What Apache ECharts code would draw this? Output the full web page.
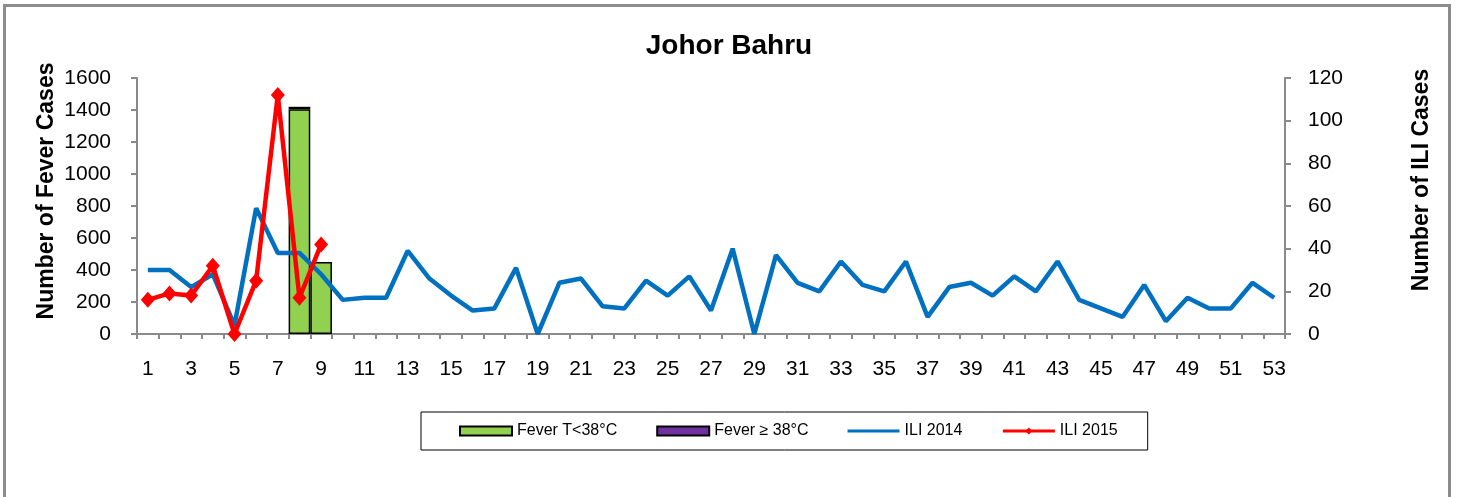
<!DOCTYPE html>
<html>
<head>
<meta charset="utf-8">
<script src="https://cdn.jsdelivr.net/npm/echarts@6/dist/echarts.min.js"></script>
<style>
html,body{margin:0;padding:0;background:#fff;}
#chart{width:1458px;height:497px;}
</style>
</head>
<body>
<div id="chart"></div>
<script>
var weeks = [];
for (var i = 1; i <= 53; i++) weeks.push(String(i));

var feverBelow38 = [null,null,null,null,null,null,null,1405,450,null,null,null,null,null,null,null,null,null,null,null,null,null,null,null,null,null,null,null,null,null,null,null,null,null,null,null,null,null,null,null,null,null,null,null,null,null,null,null,null,null,null,null,null];
var feverAbove38 = [null,null,null,null,null,null,null,15,null,null,null,null,null,null,null,null,null,null,null,null,null,null,null,null,null,null,null,null,null,null,null,null,null,null,null,null,null,null,null,null,null,null,null,null,null,null,null,null,null,null,null,null,null];
var ili2014 = [30,30,22,28,4,59,38,38,28,16,17,17,39,26,18,11,12,31,0,24,26,13,12,25,18,27,11,40,0,37,24,20,34,23,20,34,8,22,24,18,27,20,34,16,12,8,23,6,17,12,12,24,17];
var ili2015 = [16,19,18,32,0,25,112,17,42];

var FONT = "'Liberation Sans', Arial, sans-serif";
var AXIS_COLOR = '#8a8a8a';

var chart = echarts.init(document.getElementById('chart'));
chart.setOption({
  animation: false,
  backgroundColor: '#fff',
  textStyle: { fontFamily: FONT, color: '#000' },
  title: {
    text: 'Johor Bahru',
    left: 'center',
    top: 32,
    padding: 0,
    textStyle: { fontFamily: FONT, fontSize: 28, fontWeight: 'bold', color: '#000' }
  },
  graphic: [
    { type: 'rect', silent: true, shape: { x: 4.5, y: 5.5, width: 1445, height: 520 },
      style: { fill: 'none', stroke: '#8c8c8c', lineWidth: 3 } },
    { type: 'text', x: 47, y: 191, rotation: Math.PI / 2,
      style: { text: 'Number of Fever Cases', font: 'bold 23px ' + FONT, fill: '#000', align: 'center', verticalAlign: 'middle' } },
    { type: 'text', x: 1422, y: 180, rotation: Math.PI / 2,
      style: { text: 'Number of ILI Cases', font: 'bold 23px ' + FONT, fill: '#000', align: 'center', verticalAlign: 'middle' } }
  ],
  legend: {
    left: 421,
    top: 412,
    padding: [11, 30, 11, 38],
    borderColor: '#000',
    borderWidth: 1,
    itemGap: 39,
    itemWidth: 52,
    itemHeight: 9,
    textStyle: { fontFamily: FONT, fontSize: 16, color: '#000' },
    lineStyle: { width: 3 },
    data: [
      { name: 'Fever T<38°C', icon: 'rect' },
      { name: 'Fever ≥ 38°C', icon: 'rect' },
      { name: 'ILI 2014', icon: 'path://M0,0L52,0L52,3L0,3Z', itemStyle: { color: '#0070C0' } },
      { name: 'ILI 2015' }
    ]
  },
  grid: { left: 137, right: 173, top: 78, bottom: 163, containLabel: false },
  xAxis: {
    type: 'category',
    data: weeks,
    boundaryGap: true,
    axisLine: { lineStyle: { color: AXIS_COLOR, width: 2 } },
    axisTick: { show: true, interval: 0, length: 5, lineStyle: { color: AXIS_COLOR, width: 2 } },
    axisLabel: { interval: 1, margin: 25, fontSize: 21, color: '#000', fontFamily: FONT },
    splitLine: { show: false }
  },
  yAxis: [
    {
      type: 'value', min: 0, max: 1600, interval: 200, position: 'left',
      axisLine: { show: true, lineStyle: { color: AXIS_COLOR, width: 2 } },
      axisTick: { show: true, length: 6, lineStyle: { color: AXIS_COLOR, width: 2 } },
      axisLabel: { margin: 26, fontSize: 21, color: '#000', fontFamily: FONT,
        formatter: function (v) { return String(v); } },
      splitLine: { show: false }
    },
    {
      type: 'value', min: 0, max: 120, interval: 20, position: 'right',
      axisLine: { show: true, lineStyle: { color: AXIS_COLOR, width: 2 } },
      axisTick: { show: true, length: 6, lineStyle: { color: AXIS_COLOR, width: 2 } },
      axisLabel: { margin: 23, fontSize: 21, color: '#000', fontFamily: FONT,
        formatter: function (v) { return String(v); } },
      splitLine: { show: false }
    }
  ],
  series: [
    {
      name: 'Fever T<38°C', type: 'bar', stack: 'fever', yAxisIndex: 0,
      barCategoryGap: '0%',
      itemStyle: { color: '#92D050', borderColor: '#000', borderWidth: 1.5 },
      data: feverBelow38
    },
    {
      name: 'Fever ≥ 38°C', type: 'bar', stack: 'fever', yAxisIndex: 0,
      barCategoryGap: '0%',
      itemStyle: { color: '#7030A0', borderColor: '#000', borderWidth: 1.5 },
      data: feverAbove38
    },
    {
      name: 'ILI 2014', type: 'line', yAxisIndex: 1,
      showSymbol: false, symbol: 'none',
      lineStyle: { color: '#0070C0', width: 4.5 },
      itemStyle: { color: '#0070C0' },
      data: ili2014
    },
    {
      name: 'ILI 2015', type: 'line', yAxisIndex: 1,
      symbol: 'diamond', symbolSize: [14, 16], showAllSymbol: true,
      lineStyle: { color: '#FF0000', width: 4.5 },
      itemStyle: { color: '#FF0000' },
      data: ili2015
    }
  ]
});
</script>
</body>
</html>
